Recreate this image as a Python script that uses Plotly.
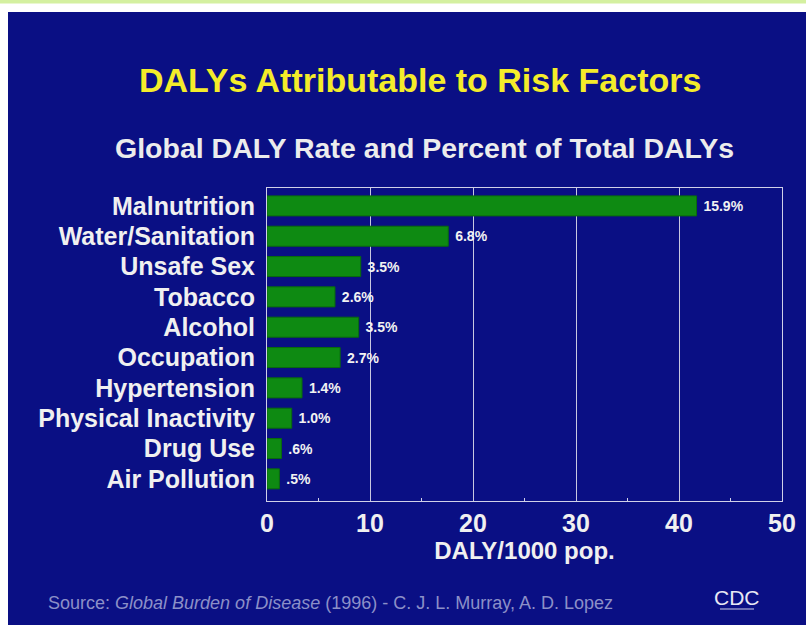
import plotly.graph_objects as go

categories = ["Malnutrition", "Water/Sanitation", "Unsafe Sex", "Tobacco", "Alcohol",
              "Occupation", "Hypertension", "Physical Inactivity", "Drug Use", "Air Pollution"]
daly_rate = [41.7, 17.6, 9.1, 6.6, 8.9, 7.1, 3.4, 2.4, 1.4, 1.2]
pct_labels = ["15.9%", "6.8%", "3.5%", "2.6%", "3.5%", "2.7%", "1.4%", "1.0%", ".6%", ".5%"]
x_ticks = [0, 10, 20, 30, 40, 50]

W, H = 806, 625
BLUE = "#0a0f84"
FONT = "Liberation Sans, Arial, sans-serif"

def px_x(v):
    return v / W

def px_y(v):
    return 1 - v / H

fig = go.Figure()
fig.add_trace(go.Bar(
    x=daly_rate,
    y=list(range(len(categories))),
    orientation="h",
    width=0.66,
    marker=dict(color="#0e8a12", line=dict(color="#0a6a0e", width=1)),
    text=[" " + s for s in pct_labels],
    textposition="outside",
    textfont=dict(family=FONT, size=14, color="#f2f2f2", weight="bold"),
    cliponaxis=False,
    hoverinfo="skip",
))

shapes = [
    dict(type="rect", xref="paper", yref="paper", x0=0, x1=1, y0=px_y(3.5), y1=1,
         fillcolor="#d4f0a0", line=dict(width=0), layer="below"),
    dict(type="rect", xref="paper", yref="paper", x0=px_x(8), x1=1, y0=0, y1=px_y(12),
         fillcolor=BLUE, line=dict(width=0), layer="below"),
    # CDC logo underline
    dict(type="line", xref="paper", yref="paper", x0=px_x(720), x1=px_x(754),
         y0=px_y(609), y1=px_y(609), line=dict(color="#d0d0e8", width=1)),
]

annotations = [
    dict(text="<b>DALYs Attributable to Risk Factors</b>", x=px_x(420), y=px_y(80),
         xref="paper", yref="paper", showarrow=False, xanchor="center", yanchor="middle",
         font=dict(family=FONT, size=34, color="#f4ec2a")),
    dict(text="<b>Global DALY Rate and Percent of Total DALYs</b>", x=px_x(424), y=px_y(148),
         xref="paper", yref="paper", showarrow=False, xanchor="center", yanchor="middle",
         font=dict(family=FONT, size=28.5, color="#ececec")),
    dict(text="Source: <i>Global Burden of Disease</i> (1996) - C. J. L. Murray, A. D. Lopez",
         x=px_x(46), y=px_y(603), xref="paper", yref="paper", showarrow=False,
         xanchor="left", yanchor="middle",
         font=dict(family=FONT, size=18, color="#8c90c8")),
    dict(text="CDC", x=px_x(737), y=px_y(597), xref="paper", yref="paper", showarrow=False,
         xanchor="center", yanchor="middle",
         font=dict(family=FONT, size=21, color="#e8e8f4")),
]

fig.update_layout(
    width=W, height=H, autosize=False,
    margin=dict(l=0, r=0, t=0, b=0, pad=0),
    paper_bgcolor="white",
    plot_bgcolor=BLUE,
    showlegend=False,
    shapes=shapes,
    annotations=annotations,
    xaxis=dict(
        domain=[px_x(267), px_x(782)],
        range=[0, 50],
        tickvals=x_ticks,
        ticktext=[str(t) for t in x_ticks],
        tickfont=dict(family=FONT, size=25, color="#f0f0f0", weight="bold"),
        showgrid=True, gridcolor="#c8c8e0", gridwidth=1,
        showline=True, linecolor="#d0d0e8", linewidth=1, mirror=True,
        ticks="", zeroline=False, automargin=False,
        minor=dict(tickvals=[5, 15, 25, 35, 45], ticks="inside", ticklen=3,
                   tickcolor="#d0d0e8", showgrid=False),
        title=dict(text="DALY/1000 pop.", standoff=4,
                   font=dict(family=FONT, size=24, color="#f0f0f0", weight="bold")),
    ),
    yaxis=dict(
        domain=[px_y(501), px_y(188)],
        range=[9.73, -0.59],
        tickvals=list(range(len(categories))),
        ticktext=categories,
        tickfont=dict(family=FONT, size=25, color="#f0f0f0", weight="bold"),
        showgrid=False,
        showline=True, linecolor="#d0d0e8", linewidth=1, mirror=True,
        ticks="outside", ticklen=6, tickcolor="rgba(0,0,0,0)",
        zeroline=False, automargin=False,
    ),
)

fig.write_html(
    "out.html",
    config={"displayModeBar": False, "responsive": False},
    post_script="document.body.style.margin='0';document.body.style.overflow='hidden';",
)
